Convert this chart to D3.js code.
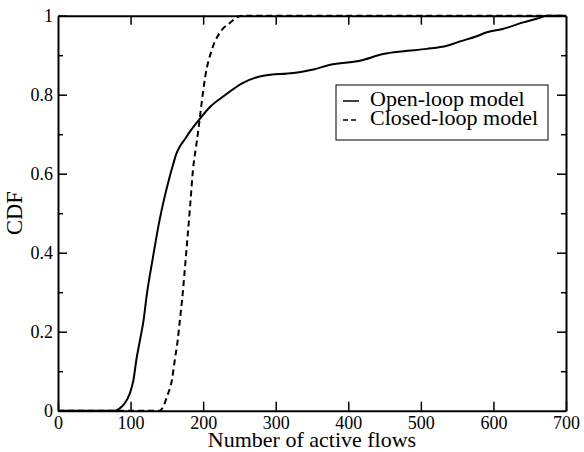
<!DOCTYPE html>
<html>
<head>
<meta charset="utf-8">
<script src="https://cdn.jsdelivr.net/npm/d3@7"></script>
<style>
    body { margin: 0; background: #fff; }
    text { font-family: "Liberation Serif", "Times New Roman", serif; fill: #000; }
</style>
</head>
<body>
<div id="chart"></div>
<script>
// data
var openX = [0, 78, 85, 92, 99, 104, 108, 113, 118, 122, 131, 140, 147, 154, 159, 163, 168, 175, 182, 196, 210, 228, 255, 283,
    324, 352, 375, 416, 448, 476, 508, 536, 554, 577, 591, 614, 641, 664, 673, 700];
var openY = [0, 0, 0.006, 0.019, 0.044, 0.078, 0.129, 0.179, 0.23, 0.289, 0.39, 0.483, 0.542, 0.593, 0.626, 0.65, 0.669, 0.688, 0.707, 0.74, 0.77, 0.796, 0.83, 0.848,
    0.855, 0.864, 0.876, 0.886, 0.903, 0.91, 0.916, 0.924, 0.935, 0.948, 0.958, 0.967, 0.983, 0.995, 1, 1];

var closedX = [0, 140, 145, 150, 157, 161, 165, 168, 171, 177, 182, 186, 191, 194, 198, 203, 212, 223, 237, 253, 700];
var closedY = [0, 0, 0.01, 0.035, 0.078, 0.129, 0.179, 0.23, 0.281, 0.407, 0.517, 0.61, 0.678, 0.72, 0.78, 0.847, 0.914, 0.957, 0.982, 1, 1];

var xTicks = [0, 100, 200, 300, 400, 500, 600, 700];
var yTicks = [0, 0.2, 0.4, 0.6, 0.8, 1];
var yMinorTicks = [0.1, 0.3, 0.5, 0.7, 0.9];

var seriesNames = ["Open-loop model", "Closed-loop model"];
var dashes = [null, "6,4"];

var width = 584, height = 452;
var margin = {top: 15.7, right: 18, bottom: 41.3, left: 58};
var w = width - margin.left - margin.right;
var h = height - margin.top - margin.bottom;

var svg = d3.select("#chart")
    .append("svg")
    .attr("width", width)
    .attr("height", height);

var g = svg.append("g")
    .attr("transform", "translate(" + margin.left + "," + margin.top + ")");

var x = d3.scaleLinear().domain([0, 700]).range([0, w]);
var y = d3.scaleLinear().domain([0, 1]).range([h, 0]);

// curves
var series = [
    d3.zip(openX, openY),
    d3.zip(closedX, closedY)
];

var line = d3.line()
    .x(function (d) { return x(d[0]); })
    .y(function (d) { return y(d[1]); })
    .curve(d3.curveMonotoneX);

g.selectAll(".curve")
    .data(series)
    .enter()
    .append("path")
    .attr("class", "curve")
    .attr("d", line)
    .attr("fill", "none")
    .attr("stroke", "#000")
    .attr("stroke-width", 2)
    .attr("stroke-dasharray", function (d, i) { return dashes[i]; });

// axes, ticks pointing inward
var fmt = d3.format(".1~f");

g.append("g")
    .attr("transform", "translate(0," + h + ")")
    .call(d3.axisBottom(x).tickValues(xTicks).tickSizeInner(-9).tickSizeOuter(0).tickPadding(6));

g.append("g")
    .call(d3.axisTop(x).tickValues(xTicks.slice(1, -1)).tickSizeInner(-9).tickSizeOuter(0).tickFormat(""));

g.append("g")
    .call(d3.axisLeft(y).tickValues(yTicks).tickSizeInner(-9).tickSizeOuter(0).tickPadding(5).tickFormat(fmt));

g.append("g")
    .call(d3.axisLeft(y).tickValues(yMinorTicks).tickSizeInner(-5).tickSizeOuter(0).tickFormat(""))
    .select(".domain").remove();

g.append("g")
    .attr("transform", "translate(" + w + ",0)")
    .call(d3.axisRight(y).tickValues(yTicks.slice(1, -1)).tickSizeInner(-9).tickSizeOuter(0).tickFormat(""));

g.append("g")
    .attr("transform", "translate(" + w + ",0)")
    .call(d3.axisRight(y).tickValues(yMinorTicks).tickSizeInner(-5).tickSizeOuter(0).tickFormat(""))
    .select(".domain").remove();

g.selectAll(".domain")
    .attr("stroke", "#000")
    .attr("stroke-width", 2);

g.selectAll(".tick line")
    .attr("stroke", "#000")
    .attr("stroke-width", 1.5);

g.selectAll(".tick text")
    .style("font-family", "'Liberation Serif', serif")
    .style("font-size", "18px")
    .attr("fill", "#000");

// axis titles
g.append("text")
    .attr("x", w / 2)
    .attr("y", h + 36)
    .attr("text-anchor", "middle")
    .style("font-size", "22px")
    .text("Number of active flows");

g.append("text")
    .attr("transform", "translate(" + (-36) + "," + (h / 2) + ") rotate(-90)")
    .attr("text-anchor", "middle")
    .style("font-size", "22.5px")
    .text("CDF");

// legend
var legend = svg.append("g")
    .attr("transform", "translate(336,85)");

legend.append("rect")
    .attr("width", 212)
    .attr("height", 55)
    .attr("fill", "#fff")
    .attr("stroke", "#000")
    .attr("stroke-width", 1);

var item = legend.selectAll(".item")
    .data(seriesNames)
    .enter()
    .append("g")
    .attr("class", "item")
    .attr("transform", function (d, i) { return "translate(0," + (21 + i * 19) + ")"; });

item.append("line")
    .attr("x1", 7)
    .attr("x2", 23)
    .attr("y1", -5)
    .attr("y2", -5)
    .attr("stroke", "#000")
    .attr("stroke-width", 1.5)
    .attr("stroke-dasharray", function (d, i) { return i ? "5,3" : null; });

item.append("text")
    .attr("x", 34)
    .style("font-size", "22px")
    .text(function (d) { return d; });
</script>
</body>
</html>
